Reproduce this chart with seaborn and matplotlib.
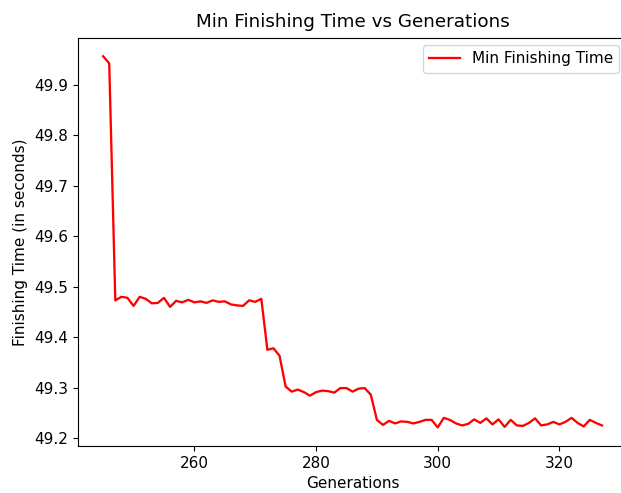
import matplotlib
matplotlib.use("Agg")
import matplotlib.pyplot as plt
import seaborn as sns
import pandas as pd

generations = list(range(245, 328))
min_finishing_time = [
    49.957, 49.943, 49.473, 49.480, 49.478, 49.462, 49.480, 49.476, 49.467, 49.468,
    49.478, 49.460, 49.472, 49.469, 49.474, 49.469, 49.471, 49.468, 49.473, 49.470,
    49.471, 49.465, 49.463, 49.462, 49.473, 49.470, 49.476, 49.375, 49.378, 49.363,
    49.302, 49.292, 49.296, 49.291, 49.284, 49.291, 49.294, 49.293, 49.290, 49.299,
    49.299, 49.292, 49.298, 49.299, 49.286, 49.236, 49.226, 49.234, 49.229, 49.233,
    49.232, 49.229, 49.232, 49.236, 49.236, 49.221, 49.240, 49.236, 49.229, 49.225,
    49.228, 49.237, 49.230, 49.239, 49.227, 49.237, 49.222, 49.236, 49.225, 49.224,
    49.230, 49.239, 49.225, 49.227, 49.232, 49.227, 49.232, 49.240, 49.230, 49.223,
    49.236, 49.230, 49.225,
]

df = pd.DataFrame({"Generations": generations, "Min Finishing Time": min_finishing_time})

plt.rcParams.update({
    "font.size": 11,
    "axes.titlesize": 13.2,
    "axes.labelsize": 11,
    "xtick.labelsize": 11,
    "ytick.labelsize": 11,
    "legend.fontsize": 11,
})

fig = plt.figure(figsize=(6.21, 4.93), dpi=100)
ax = fig.add_axes([78.2 / 621, 47 / 493, 548.7 / 621, (446 - 37.7) / 493])
sns.lineplot(data=df, x="Generations", y="Min Finishing Time", color="red",
             linewidth=1.65, label="Min Finishing Time", ax=ax)
ax.set_title("Min Finishing Time vs Generations", pad=8)
ax.set_xlabel("Generations")
ax.set_ylabel("Finishing Time (in seconds)", labelpad=5)
ax.legend(loc="upper right")
fig.savefig("out.png", dpi=100)
